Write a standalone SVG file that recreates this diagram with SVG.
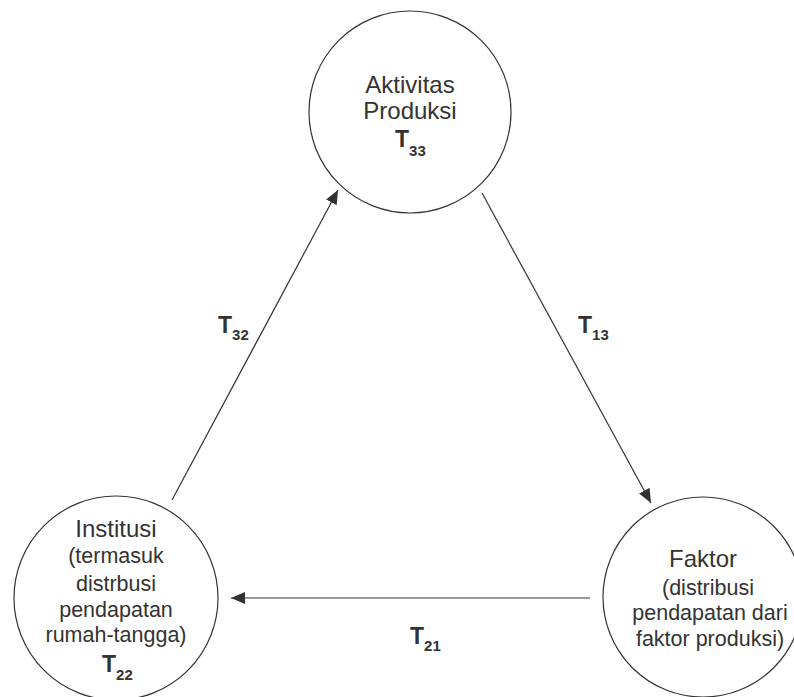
<svg xmlns="http://www.w3.org/2000/svg" width="794" height="697" viewBox="0 0 794 697">
<defs>
<style>
.node{fill:#fff;stroke:#333;stroke-width:1.2}
.main{font-family:"Liberation Sans",Arial,sans-serif;font-size:24px;fill:#333;text-anchor:middle}
.subt{font-family:"Liberation Sans",Arial,sans-serif;font-size:21.5px;fill:#333;text-anchor:middle}
.t{font-family:"Liberation Sans",Arial,sans-serif;font-size:23px;font-weight:bold;fill:#333}
.s{font-size:15px}
.conn{stroke:#333;stroke-width:1.2;fill:none;marker-end:url(#ah)}
</style>
<marker id="ah" markerUnits="userSpaceOnUse" markerWidth="15" markerHeight="13" refX="14" refY="6" orient="auto">
<path d="M0,0 L14,6 L0,12 z" fill="#333"/>
</marker>
</defs>
<rect width="794" height="697" fill="#fff"/>
<g id="connectors">
<line class="conn" x1="590" y1="598" x2="231" y2="598"/>
<line class="conn" x1="172" y1="500" x2="338" y2="190"/>
<line class="conn" x1="482" y1="193" x2="651" y2="503"/>
<text class="t" x="218" y="333">T<tspan class="s" dy="7">32</tspan></text>
<text class="t" x="578" y="333">T<tspan class="s" dy="7">13</tspan></text>
<text class="t" x="410" y="644">T<tspan class="s" dy="7">21</tspan></text>
</g>
<g id="node-aktivitas">
<circle class="node" cx="410" cy="112" r="101"/>
<text class="main" x="410" y="93">Aktivitas</text>
<text class="main" x="410" y="119">Produksi</text>
<text class="t" x="395" y="147">T<tspan class="s" dy="9">33</tspan></text>
</g>
<g id="node-institusi">
<circle class="node" cx="116" cy="598" r="102"/>
<text class="main" x="116" y="537">Institusi</text>
<text class="subt" x="116" y="563">(termasuk</text>
<text class="subt" x="116" y="591">distrbusi</text>
<text class="subt" x="116" y="617">pendapatan</text>
<text class="subt" x="116" y="642">rumah-tangga)</text>
<text class="t" x="102" y="672">T<tspan class="s" dy="8">22</tspan></text>
</g>
<g id="node-faktor">
<circle class="node" cx="703" cy="597" r="100"/>
<text class="main" x="703" y="567">Faktor</text>
<text class="subt" x="708" y="595">(distribusi</text>
<text class="subt" x="710" y="620">pendapatan dari</text>
<text class="subt" x="710" y="646">faktor produksi)</text>
</g>
</svg>
